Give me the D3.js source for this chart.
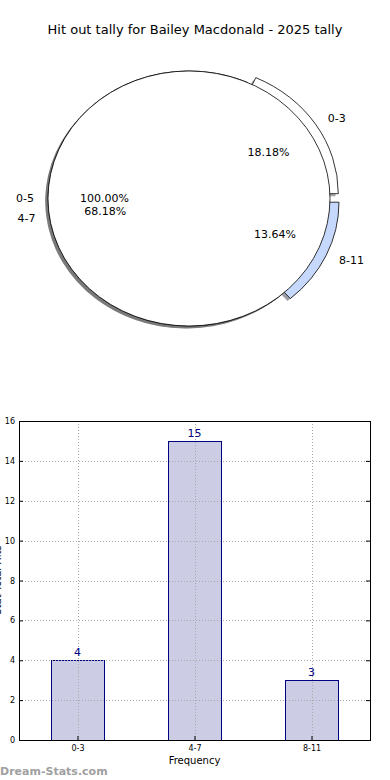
<!DOCTYPE html>
<html>
<head>
<meta charset="utf-8">
<script src="https://cdn.jsdelivr.net/npm/d3@7"></script>
<style>
  body { margin: 0; background: #fff; }
  svg { display: block; font-family: "DejaVu Sans", sans-serif; }
</style>
</head>
<body>
<script>
// data
var title = "Hit out tally for Bailey Macdonald - 2025 tally";
var categories = ["0-3", "4-7", "8-11"];
var tally = [4, 15, 3];
var pieColors = ["#ffffff", "#ffffff", "#c6d9fd"];
var pieExplode = [0.07, 0, 0.07];
var bgLabel = "0-5";
var yTicks = [0, 2, 4, 6, 8, 10, 12, 14, 16];

var W = 390, H = 780;
var svg = d3.select("body").append("svg")
    .attr("width", W)
    .attr("height", H);

svg.append("text")
    .attr("x", 195).attr("y", 34)
    .attr("text-anchor", "middle")
    .attr("font-size", 13)
    .text(title);

// ---- pie (matplotlib style, ellipse because axes not square)
var cx = 189, cy = 198.5, sx = 141, sy = 127.5;
var px = function(u) { return cx + u * sx; };
var py = function(v) { return cy - v * sy; };

var total = d3.sum(tally);
// start at 3 o'clock, go counter-clockwise like matplotlib
var pie = d3.pie().sort(null)
    .startAngle(Math.PI / 2)
    .endAngle(Math.PI / 2 - 2 * Math.PI);
var arcs = pie(tally);
var arc = d3.arc().innerRadius(0).outerRadius(1);

var gPie = svg.append("g");

function midTheta(a) { return Math.PI / 2 - (a.startAngle + a.endAngle) / 2; }

function drawWedge(a, color, ex, shadowOnly) {
    var th = midTheta(a);
    var ox = ex * Math.cos(th), oy = ex * Math.sin(th);
    var g = gPie.append("g")
        .attr("transform", "translate(" + (px(ox) + (shadowOnly ? -2.8 : 0)) + "," + (py(oy) + (shadowOnly ? 2.5 : 0)) + ") scale(" + sx + "," + sy + ")");
    var c = d3.color(color);
    g.append("path")
        .attr("d", arc(a))
        .attr("fill", shadowOnly ? d3.rgb(c.r * 0.3, c.g * 0.3, c.b * 0.3) : color)
        .attr("fill-opacity", shadowOnly ? 0.5 : 1)
        .attr("stroke", shadowOnly ? "none" : "#000")
        .attr("stroke-width", 0.8)
        .attr("vector-effect", "non-scaling-stroke");
}

// shadows then wedges
arcs.forEach(function(a, i) { drawWedge(a, pieColors[i], pieExplode[i], true); });
arcs.forEach(function(a, i) { drawWedge(a, pieColors[i], pieExplode[i], false); });

// the background 100% pie drawn on top
var full = pie([1])[0];
drawWedge(full, "#ffffff", 0, true);
drawWedge(full, "#ffffff", 0, false);

function pieText(theta, ex, dist, txt, align, dyPx) {
    var u = ex * Math.cos(theta) + dist * Math.cos(theta);
    var v = ex * Math.sin(theta) + dist * Math.sin(theta);
    var anchor = align ? (Math.cos(theta) > 0 ? "start" : "end") : "middle";
    svg.append("text")
        .attr("x", px(u)).attr("y", py(v) + (dyPx || 0))
        .attr("dy", "0.35em")
        .attr("text-anchor", anchor)
        .attr("font-size", 11)
        .text(txt);
}

arcs.forEach(function(a, i) {
    var th = midTheta(a);
    pieText(th, pieExplode[i], 1.1, categories[i], true);
    pieText(th, pieExplode[i], 0.6, (tally[i] / total * 100).toFixed(2) + "%", false, i === 1 ? 2 : 0);
});
pieText(Math.PI, 0, 1.1, bgLabel, true);
svg.append("text")
    .attr("x", px(-0.6)).attr("y", py(0))
    .attr("dy", "0.35em")
    .attr("text-anchor", "middle")
    .attr("font-size", 11)
    .text("100.00%");

// ---- bar chart
var pLeft = 19, pRight = 370, pTop = 421, pBottom = 740;

var x = d3.scalePoint().domain(categories).range([pLeft, pRight]).padding(0.5);
var y = d3.scaleLinear().domain([0, 16]).range([pBottom, pTop]);
var bw = x.step() * 0.45;

var gBar = svg.append("g");

gBar.selectAll("rect.bar")
    .data(tally)
    .enter().append("rect")
        .attr("class", "bar")
        .attr("x", function(d, i) { return Math.round(x(categories[i]) - bw / 2) + 0.5; })
        .attr("y", function(d) { return Math.round(y(d)) + 0.5; })
        .attr("width", Math.round(bw))
        .attr("height", function(d) { return Math.round(y(0)) - Math.round(y(d)); })
        .attr("fill", "#cccce5")
        .attr("stroke", "#000080")
        .attr("stroke-width", 1);

// grid on top
var grid = svg.append("g")
    .attr("stroke", "#a8a8a8")
    .attr("stroke-width", 1)
    .attr("stroke-dasharray", "1,2");
grid.selectAll("line.gy")
    .data(yTicks.slice(1, -1))
    .enter().append("line")
        .attr("x1", pLeft).attr("x2", pRight)
        .attr("y1", function(d) { return Math.round(y(d)) + 0.5; })
        .attr("y2", function(d) { return Math.round(y(d)) + 0.5; });
grid.selectAll("line.gx")
    .data(categories)
    .enter().append("line")
        .attr("x1", function(d) { return Math.round(x(d)) + 0.5; })
        .attr("x2", function(d) { return Math.round(x(d)) + 0.5; })
        .attr("y1", pTop).attr("y2", pBottom);

// value labels
svg.selectAll("text.val")
    .data(tally)
    .enter().append("text")
        .attr("x", function(d, i) { return x(categories[i]); })
        .attr("y", function(d) { return y(d) - 4; })
        .attr("text-anchor", "middle")
        .attr("font-size", 11)
        .attr("fill", "#000080")
        .text(function(d) { return d; });

// axes
var yAxis = d3.axisLeft(y).tickValues(yTicks).tickSize(-4).tickPadding(4).tickFormat(d3.format("d"));
var gy = svg.append("g").attr("transform", "translate(" + pLeft + ",0)").call(yAxis);
var xAxis = d3.axisBottom(x).tickSize(-4).tickPadding(5);
var gx = svg.append("g").attr("transform", "translate(0," + pBottom + ")").call(xAxis);
[gy, gx].forEach(function(g) {
    g.select(".domain").remove();
    g.selectAll("text").attr("font-size", 8).attr("font-family", "DejaVu Sans, sans-serif").attr("fill", "#000");
    g.selectAll("line").attr("stroke", "#000");
});
// right side ticks
svg.append("g").attr("transform", "translate(" + pRight + ",0)")
    .call(d3.axisRight(y).tickValues(yTicks).tickSize(-4).tickFormat(""))
    .call(function(g) { g.select(".domain").remove(); g.selectAll("line").attr("stroke", "#000"); });

svg.append("rect")
    .attr("x", pLeft + 0.5).attr("y", pTop + 0.5)
    .attr("width", pRight - pLeft).attr("height", pBottom - pTop)
    .attr("fill", "none")
    .attr("stroke", "#000")
    .attr("stroke-width", 1);

svg.append("text")
    .attr("x", (pLeft + pRight) / 2).attr("y", 764)
    .attr("text-anchor", "middle")
    .attr("font-size", 10)
    .text("Frequency");

svg.append("text")
    .attr("transform", "translate(1,580) rotate(-90)")
    .attr("text-anchor", "middle")
    .attr("font-size", 10)
    .text("Stat Total Hits");

svg.append("text")
    .attr("x", 0).attr("y", 775)
    .attr("font-size", 11)
    .attr("font-weight", "bold")
    .attr("fill", "#a0a0a0")
    .text("Dream-Stats.com");
</script>
</body>
</html>
